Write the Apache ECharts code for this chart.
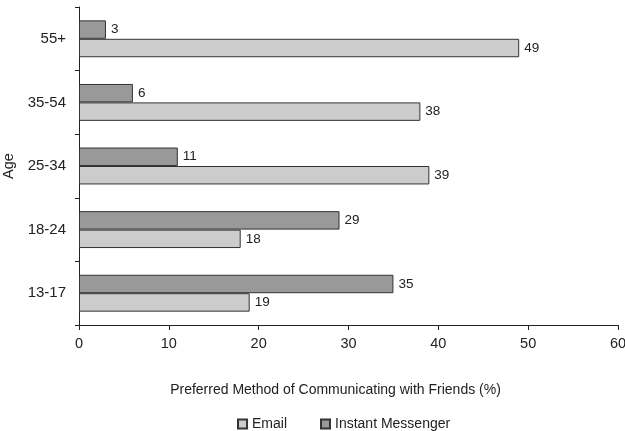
<!DOCTYPE html>
<html>
<head>
<meta charset="utf-8">
<script src="https://cdn.jsdelivr.net/npm/echarts@6/dist/echarts.min.js"></script>
<style>
  html, body { margin: 0; padding: 0; background: #fff; }
  #chart { width: 625px; height: 431px; }
</style>
</head>
<body>
<div id="chart"></div>
<script>
// Age groups, bottom to top
const ageGroups = ['13-17', '18-24', '25-34', '35-54', '55+'];
// Share of each age group preferring each method (%)
const emailValues = [19, 18, 39, 38, 49];
const imValues = [35, 29, 11, 6, 3];
const xTicks = [0, 10, 20, 30, 40, 50, 60];

const FONT = '"Liberation Sans", Arial, sans-serif';
const TEXT = '#222';

const chart = echarts.init(document.getElementById('chart'), null, { renderer: 'canvas' });

const labelCfg = {
  show: true,
  position: 'right',
  distance: 5,
  color: TEXT,
  fontFamily: FONT,
  fontSize: 13.5
};

chart.setOption({
  animation: false,
  backgroundColor: '#fff',
  textStyle: { fontFamily: FONT },
  grid: { left: 79, right: 7, top: 7, bottom: 106, containLabel: false, outerBoundsMode: 'none' },
  legend: {
    data: ['Email', 'Instant Messenger'],
    left: 232,
    top: 412,
    itemWidth: 9,
    itemHeight: 9,
    itemGap: 33,
    icon: 'rect',
    textStyle: { color: TEXT, fontFamily: FONT, fontSize: 14 }
  },
  xAxis: {
    type: 'value',
    min: xTicks[0],
    max: xTicks[xTicks.length - 1],
    interval: 10,
    name: 'Preferred Method of Communicating with Friends (%)',
    nameLocation: 'middle',
    nameGap: 58,
    nameTextStyle: { color: TEXT, fontFamily: FONT, fontSize: 14, padding: [0, 26, 0, 0] },
    axisLine: { show: true, lineStyle: { color: '#222', width: 1 } },
    axisTick: { show: true, length: 5, lineStyle: { color: '#222' } },
    axisLabel: { color: TEXT, fontFamily: FONT, fontSize: 14.5, margin: 11 },
    splitLine: { show: false }
  },
  yAxis: {
    type: 'category',
    data: ageGroups,
    name: 'Age',
    nameLocation: 'middle',
    nameGap: 56,
    nameRotate: 90,
    nameTextStyle: { color: TEXT, fontFamily: FONT, fontSize: 14.5 },
    axisLine: { show: true, lineStyle: { color: '#222', width: 1 } },
    axisTick: { show: true, length: 4, lineStyle: { color: '#222' } },
    axisLabel: { color: TEXT, fontFamily: FONT, fontSize: 15, margin: 13 }
  },
  series: [
    {
      // listed first so it sits on top within each age group
      name: 'Instant Messenger',
      type: 'bar',
      data: imValues,
      barGap: '0%',
      barCategoryGap: '42%',
      itemStyle: { color: '#999999', borderColor: '#333', borderWidth: 1 },
      label: labelCfg
    },
    {
      name: 'Email',
      type: 'bar',
      data: emailValues,
      itemStyle: { color: '#cccccc', borderColor: '#333', borderWidth: 1 },
      label: labelCfg
    }
  ]
});
</script>
</body>
</html>
